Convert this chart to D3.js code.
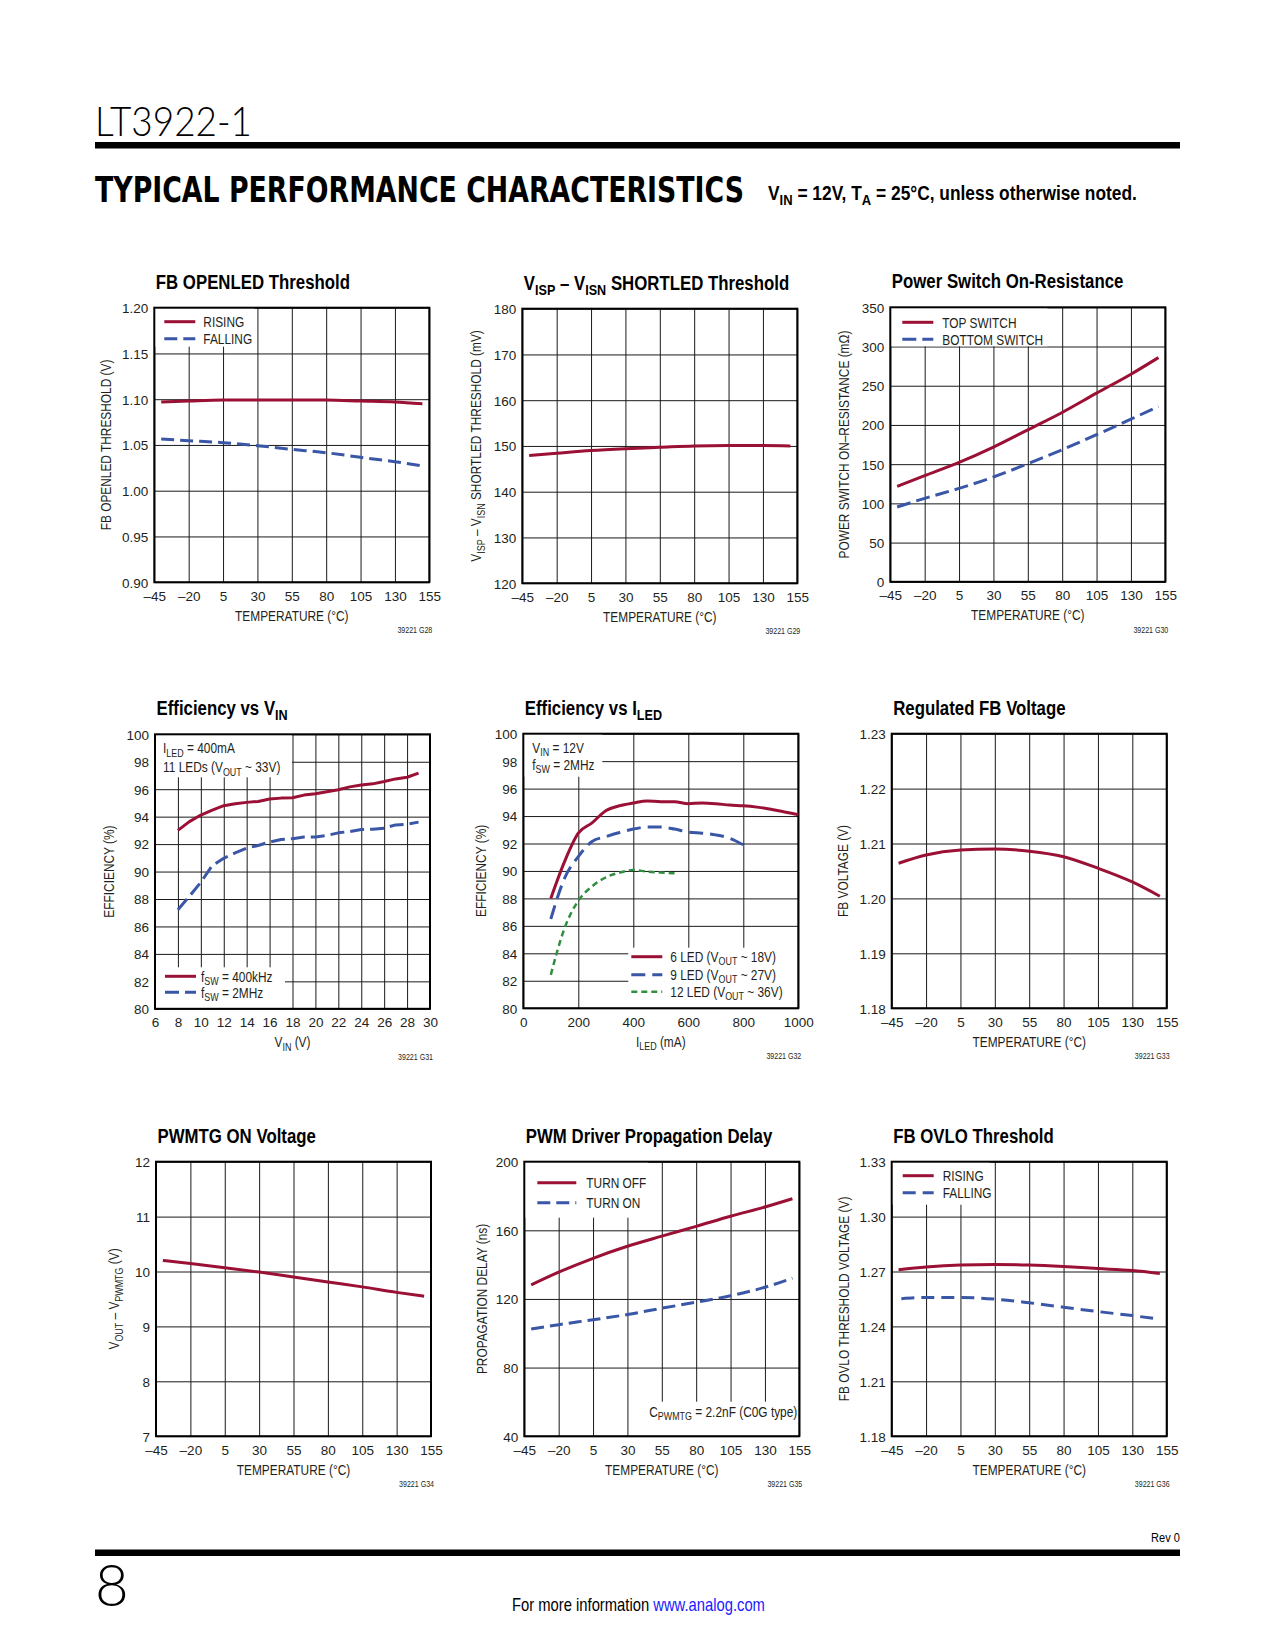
<!DOCTYPE html>
<html><head><meta charset="utf-8">
<script src="https://cdn.jsdelivr.net/npm/d3@7"></script>
<style>body{margin:0;background:#fff;}svg{display:block;}</style>
</head><body>
<svg id="page" width="1275" height="1650"></svg>
<script>
// ---------- DATA ----------
const tempTicks = [-45,-20,5,30,55,80,105,130,155];
const tempPts = [-40,-20,5,30,55,80,105,130,150];

// G28 FB OPENLED Threshold
const openledYTicks = [0.90,0.95,1.00,1.05,1.10,1.15,1.20];
const openledRising = [1.097,1.098,1.099,1.099,1.099,1.099,1.098,1.097,1.095];
const openledFalling = [1.0565,1.0547,1.0525,1.0492,1.0452,1.0415,1.0365,1.0317,1.0270];

// G29 VISP-VISN SHORTLED Threshold
const shortYTicks = [120,130,140,150,160,170,180];
const shortV = [147.9,148.4,149.0,149.4,149.7,150.0,150.1,150.1,150.0];

// G30 Power Switch On-Resistance
const ronYTicks = [0,50,100,150,200,250,300,350];
const ronTop = [121.7,135.3,152.2,171.8,193.8,215.9,240.5,264.7,285.9];
const ronBottom = [95.4,106.4,119.1,133.6,150.6,168.4,187.5,207.4,223.5];

// G31 Efficiency vs VIN
const vinTicks = [6,8,10,12,14,16,18,20,22,24,26,28,30];
const effYTicks = [80,82,84,86,88,90,92,94,96,98,100];
const effVin = [8,9,10,11,12,13,14,15,16,17,18,19,20,21,22,23,24,25,26,27,28,29];
const eff400k = [93.0,93.64,94.12,94.48,94.80,94.94,95.04,95.11,95.28,95.35,95.38,95.57,95.67,95.81,95.96,96.17,96.31,96.39,96.56,96.75,96.87,97.17];
const eff2M = [87.22,88.2,89.22,90.44,90.97,91.36,91.71,91.9,92.15,92.34,92.39,92.51,92.51,92.63,92.82,92.92,93.06,93.09,93.16,93.4,93.45,93.6];

// G32 Efficiency vs ILED
const iledTicks = [0,200,400,600,800,1000];
const iled6 = [100,150,200,250,300,350,400,450,500,550,600,650,700,750,800,850,900,950,1000];
const eff6 = [88.0,90.68,92.75,93.5,94.39,94.75,94.95,95.1,95.04,95.04,94.9,94.95,94.9,94.8,94.75,94.65,94.5,94.3,94.1];
const iled9 = [100,150,200,250,300,350,400,450,500,550,600,650,700,750,800];
const eff9 = [86.5,89.47,91.05,92.15,92.5,92.8,93.05,93.2,93.2,93.05,92.83,92.75,92.63,92.39,91.9];
const iled12 = [100,150,200,250,300,350,400,450,500,550];
const eff12 = [82.43,85.83,87.83,88.87,89.54,89.88,90.07,89.95,89.88,89.83];

// G33 Regulated FB Voltage
const fbYTicks = [1.18,1.19,1.20,1.21,1.22,1.23];
const fbV = [1.2064,1.2079,1.2088,1.2090,1.2086,1.2076,1.2055,1.2030,1.2004];

// G34 PWMTG ON Voltage
const pwmtgYTicks = [7,8,9,10,11,12];
const pwmtgV = [10.2,10.145,10.07,9.99,9.9,9.81,9.72,9.62,9.55];

// G35 PWM Driver Propagation Delay
const delayYTicks = [40,80,120,160,200];
const delayOff = [128.2,135.6,143.7,150.7,156.6,162.3,168.2,173.6,178.4];
const delayOn = [102.5,105.0,107.9,110.9,114.6,118.1,121.9,126.8,132.1];

// G36 FB OVLO Threshold
const ovloYTicks = [1.18,1.21,1.24,1.27,1.30,1.33];
const ovloRising = [1.2709,1.2724,1.2735,1.2738,1.2735,1.2727,1.2716,1.2705,1.2689];
const ovloFallT = [-38,-20,5,30,55,80,105,130,150];
const ovloFalling = [1.2551,1.2558,1.2558,1.2549,1.2529,1.2505,1.2481,1.2459,1.2439];

// ---------- STYLE ----------
const RED="#9b1035", BLUE="#3a56a6", GREEN="#2f8f3f", INK="#231f20";
const FT="'Liberation Sans',Arial,Helvetica,sans-serif";
const NS=0.82;           // horizontal condensing factor (narrow type)
const W=275, H=274.5;

const svg=d3.select("#page");

function rich(sel, str, fs){
  const parts=str.split(/(_\{[^}]*\})/).filter(s=>s.length);
  let sub=false;
  const sh=fs*0.24;
  parts.forEach(p=>{
    if(p.startsWith("_{")){
      sel.append("tspan").attr("dy",sh).attr("font-size",fs*0.75).text(p.slice(2,-1));
      sub=true;
    } else {
      const t=sel.append("tspan").text(p);
      if(sub){t.attr("dy",-sh);sub=false;}
    }
  });
  return sel;
}
function ntext(parent,x,y,fs,str,o={}){
  const g=parent.append("g").attr("transform",`translate(${x},${y})${o.rotate?` rotate(${o.rotate})`:""} scale(${o.ns||NS},1)`);
  const t=g.append("text").attr("font-family",FT).attr("font-size",fs)
    .attr("text-anchor",o.anchor||"start").attr("font-weight",o.weight||null).attr("fill",o.fill||INK);
  rich(t,str,fs);
  return t;
}
function fmtSigned(d){return d<0?"\u2013"+Math.abs(d):String(d);}

const charts=[
 {left:154.3,top:307.7,title:"FB OPENLED Threshold",code:"39221 G28",
  xDomain:[-45,155],xTicks:tempTicks,yDomain:[0.90,1.20],yTicks:openledYTicks,yFmt:d3.format(".2f"),
  xTitle:"TEMPERATURE (°C)",yTitle:"FB OPENLED THRESHOLD (V)",yOff:43.5,
  series:[{x:tempPts,y:openledRising,color:RED},{x:tempPts,y:openledFalling,color:BLUE,dash:"13,6"}],
  boxes:[[0,0,100,39]],
  legend:[{y:14,x1:10,x2:41,tx:49,color:RED,text:"RISING"},{y:31,x1:10,x2:41,tx:49,color:BLUE,dash:"13,6",text:"FALLING"}]},
 {left:522.3,top:308.7,title:"V_{ISP} – V_{ISN} SHORTLED Threshold",code:"39221 G29",
  xDomain:[-45,155],xTicks:tempTicks,yDomain:[120,180],yTicks:shortYTicks,
  xTitle:"TEMPERATURE (°C)",yTitle:"V_{ISP} – V_{ISN} SHORTLED THRESHOLD (mV)",yOff:41,
  series:[{x:tempPts,y:shortV,color:RED}]},
 {left:890.3,top:307.3,title:"Power Switch On-Resistance",code:"39221 G30",
  xDomain:[-45,155],xTicks:tempTicks,yDomain:[0,350],yTicks:ronYTicks,
  xTitle:"TEMPERATURE (°C)",yTitle:"POWER SWITCH ON–RESISTANCE (mΩ)",yOff:41,
  series:[{x:tempPts,y:ronTop,color:RED},{x:tempPts,y:ronBottom,color:BLUE,dash:"14,6"}],
  boxes:[[0,0,157,39]],
  legend:[{y:15,x1:12,x2:43,tx:52,color:RED,text:"TOP SWITCH"},{y:32,x1:12,x2:43,tx:52,color:BLUE,dash:"14,6",text:"BOTTOM SWITCH"}]},
 {left:155,top:734.3,title:"Efficiency vs V_{IN}",code:"39221 G31",
  xDomain:[6,30],xTicks:vinTicks,yDomain:[80,100],yTicks:effYTicks,
  xTitle:"V_{IN} (V)",yTitle:"EFFICIENCY (%)",yOff:41,linear:true,
  series:[{x:effVin,y:eff400k,color:RED},{x:effVin,y:eff2M,color:BLUE,dash:"14,6"}],
  boxes:[[0,0,137,43],[0,233,130,H-233]],
  notes:[{x:8,y:19,text:"I_{LED} = 400mA"},{x:8,y:38,text:"11 LEDs (V_{OUT} ~ 33V)"}],
  legend:[{y:242,x1:10,x2:41,tx:46,color:RED,text:"f_{SW} = 400kHz"},{y:258,x1:10,x2:41,tx:46,color:BLUE,dash:"14,6",text:"f_{SW} = 2MHz"}]},
 {left:523.3,top:733.7,title:"Efficiency vs I_{LED}",code:"39221 G32",
  xDomain:[0,1000],xTicks:iledTicks,yDomain:[80,100],yTicks:effYTicks,
  xTitle:"I_{LED} (mA)",yTitle:"EFFICIENCY (%)",yOff:37.6,
  series:[{x:iled6,y:eff6,color:RED},{x:iled9,y:eff9,color:BLUE,dash:"14,7"},{x:iled12,y:eff12,color:GREEN,dash:"6,4",width:2.5}],
  boxes:[[0,0,79,43],[105,214,W-105,H-214]],
  notes:[{x:9,y:19,text:"V_{IN} = 12V"},{x:9,y:36,text:"f_{SW} = 2MHz"}],
  legend:[{y:223,x1:108,x2:139,tx:147,color:RED,text:"6 LED (V_{OUT} ~ 18V)"},
          {y:241,x1:108,x2:139,tx:147,color:BLUE,dash:"14,7",text:"9 LED (V_{OUT} ~ 27V)"},
          {y:258,x1:108,x2:139,tx:147,color:GREEN,dash:"6,4",width:2.5,text:"12 LED (V_{OUT} ~ 36V)"}]},
 {left:891.7,top:733.7,title:"Regulated FB Voltage",code:"39221 G33",
  xDomain:[-45,155],xTicks:tempTicks,yDomain:[1.18,1.23],yTicks:fbYTicks,yFmt:d3.format(".2f"),
  xTitle:"TEMPERATURE (°C)",yTitle:"FB VOLTAGE (V)",yOff:43.7,
  series:[{x:tempPts,y:fbV,color:RED}]},
 {left:156,top:1161.7,title:"PWMTG ON Voltage",code:"39221 G34",
  xDomain:[-45,155],xTicks:tempTicks,yDomain:[7,12],yTicks:pwmtgYTicks,
  xTitle:"TEMPERATURE (°C)",yTitle:"V_{OUT} – V_{PWMTG} (V)",yOff:36.7,
  series:[{x:tempPts,y:pwmtgV,color:RED}]},
 {left:524.3,top:1161.7,title:"PWM Driver Propagation Delay",code:"39221 G35",
  xDomain:[-45,155],xTicks:tempTicks,yDomain:[40,200],yTicks:delayYTicks,
  xTitle:"TEMPERATURE (°C)",yTitle:"PROPAGATION DELAY (ns)",yOff:37.6,
  series:[{x:tempPts,y:delayOff,color:RED},{x:tempPts,y:delayOn,color:BLUE,dash:"13,6"}],
  boxes:[[0,0,124,56],[111,240,W-111,H-240]],
  notes:[{x:273,y:255,anchor:"end",text:"C_{PWMTG} = 2.2nF (C0G type)"}],
  legend:[{y:21,x1:13,x2:52,tx:62,color:RED,text:"TURN OFF"},{y:41,x1:13,x2:52,tx:62,color:BLUE,dash:"13,6",text:"TURN ON"}]},
 {left:891.7,top:1161.7,title:"FB OVLO Threshold",code:"39221 G36",
  xDomain:[-45,155],xTicks:tempTicks,yDomain:[1.18,1.33],yTicks:ovloYTicks,yFmt:d3.format(".2f"),
  xTitle:"TEMPERATURE (°C)",yTitle:"FB OVLO THRESHOLD VOLTAGE (V)",yOff:42.7,
  series:[{x:tempPts,y:ovloRising,color:RED},{x:ovloFallT,y:ovloFalling,color:BLUE,dash:"13,7"}],
  boxes:[[0,0,98,43]],
  legend:[{y:14,x1:11,x2:42,tx:51,color:RED,text:"RISING"},{y:31,x1:11,x2:42,tx:51,color:BLUE,dash:"13,7",text:"FALLING"}]}
];

function drawChart(c){
  const g=svg.append("g").attr("transform",`translate(${c.left},${c.top})`);
  const x=d3.scaleLinear().domain(c.xDomain).range([0,W]);
  const y=d3.scaleLinear().domain(c.yDomain).range([H,0]);
  const gx=g.append("g").attr("transform",`translate(0,${H})`)
    .call(d3.axisBottom(x).tickValues(c.xTicks).tickSize(-H).tickFormat(c.xFmt||fmtSigned));
  const gy=g.append("g")
    .call(d3.axisLeft(y).tickValues(c.yTicks).tickSize(-W).tickFormat(c.yFmt||d3.format("d")));
  [gx,gy].forEach(a=>{
    a.select(".domain").remove();
    a.selectAll("line").attr("stroke","#1a1a1a").attr("stroke-width",1);
    a.selectAll("text").attr("font-family",FT).attr("font-size",13.5).attr("fill",INK);
  });
  gx.selectAll("text").attr("y",18.4).attr("dy",null);
  gy.selectAll("text").attr("x",-6).attr("dy","0.36em");
  (c.boxes||[]).forEach(b=>g.append("rect").attr("x",b[0]).attr("y",b[1]).attr("width",b[2]).attr("height",b[3]).attr("fill","#fff"));
  g.append("rect").attr("width",W).attr("height",H).attr("fill","none").attr("stroke","#000").attr("stroke-width",2);
  c.series.forEach(s=>{
    const line=d3.line().x(i=>x(s.x[i])).y(i=>y(s.y[i])).curve(c.linear?d3.curveLinear:d3.curveMonotoneX);
    g.append("path").attr("d",line(d3.range(s.x.length))).attr("fill","none")
      .attr("stroke",s.color).attr("stroke-width",s.width||3).attr("stroke-dasharray",s.dash||null)
      .attr("stroke-linejoin","round");
  });
  (c.legend||[]).forEach(l=>{
    g.append("line").attr("x1",l.x1).attr("x2",l.x2).attr("y1",l.y).attr("y2",l.y)
      .attr("stroke",l.color).attr("stroke-width",l.width||3).attr("stroke-dasharray",l.dash||null);
    ntext(g,l.tx,l.y+5.3,14.5,l.text);
  });
  (c.notes||[]).forEach(n=>ntext(g,n.x,n.y,14.5,n.text,{anchor:n.anchor}));
  ntext(g,1.5,-19,20.5,c.title,{weight:"bold",fill:"#000"});
  ntext(g,W/2,H+38.6,14.5,c.xTitle,{anchor:"middle"});
  ntext(g,-c.yOff,H/2,14.5,c.yTitle,{anchor:"middle",rotate:-90});
  ntext(g,W+3,H+51,8.6,c.code,{anchor:"end"});
}
charts.forEach(drawChart);

// ---------- PAGE HEADER / FOOTER ----------
svg.append("text").attr("x",95).attr("y",136).attr("font-family","Lato,'DejaVu Sans',sans-serif").attr("font-weight",300)
  .attr("font-size",42).attr("textLength",157).attr("lengthAdjust","spacingAndGlyphs").attr("fill","#000").text("LT3922-1");
svg.append("rect").attr("x",95).attr("y",142).attr("width",1085).attr("height",6.5).attr("fill","#000");
svg.append("text").attr("x",95).attr("y",202).attr("font-family","'DejaVu Sans Condensed','DejaVu Sans',sans-serif").attr("font-weight","bold")
  .attr("font-size",36).attr("textLength",649).attr("lengthAdjust","spacingAndGlyphs").attr("fill","#000").text("TYPICAL PERFORMANCE CHARACTERISTICS");
ntext(svg,768,200,19.5,"V_{IN} = 12V, T_{A} = 25°C, unless otherwise noted.",{weight:"bold",fill:"#000",ns:0.89});

ntext(svg,1180,1542,13.5,"Rev 0",{anchor:"end",fill:"#000"});
svg.append("rect").attr("x",95).attr("y",1549.5).attr("width",1085).attr("height",6.5).attr("fill","#000");
svg.append("text").attr("x",95).attr("y",1606).attr("font-family","Lato,'DejaVu Sans',sans-serif").attr("font-weight",300)
  .attr("font-size",58).attr("fill","#000").text("8");
const ftg=svg.append("g").attr("transform",`translate(512,1611) scale(0.845,1)`);
const ft=ftg.append("text").attr("font-family",FT).attr("font-size",17.5).attr("fill","#000");
ft.append("tspan").text("For more information ");
ft.append("tspan").attr("fill","#1a1aff").text("www.analog.com");
</script>
</body></html>
